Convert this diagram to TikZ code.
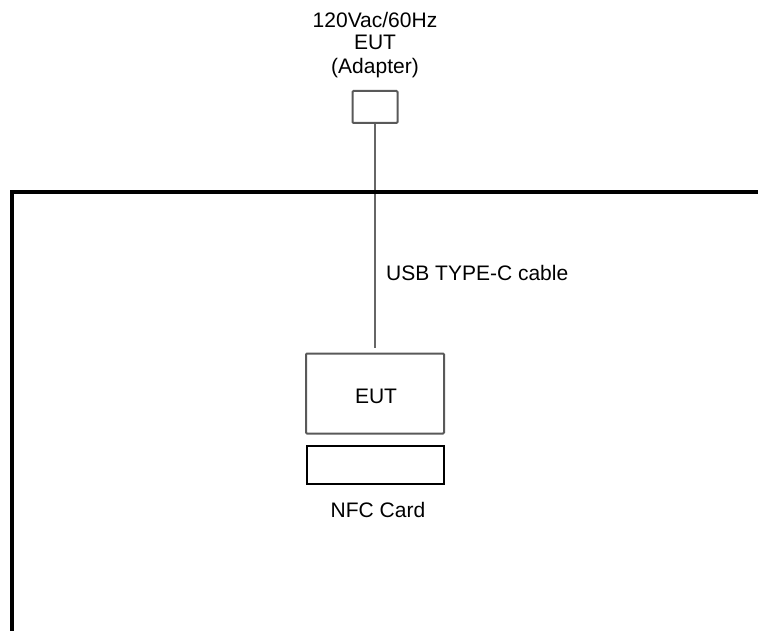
\documentclass[tikz,border=0pt]{standalone}
\usepackage{fontspec}
\setmainfont{Liberation Sans}
\begin{document}
\begin{tikzpicture}[x=1pt,y=-1pt,
  lbl/.style={font=\fontsize{21}{24}\selectfont, inner sep=0pt, anchor=base},
  graybox/.style={draw=black!65, line width=2pt, rounded corners=1pt, inner sep=0pt},
  cardbox/.style={draw=black, line width=1.3pt, inner sep=0pt},
  wire/.style={draw=black!60, line width=1.8pt},
  frame/.style={draw=black, line width=4pt, line cap=rect}]
\useasboundingbox (0,0) rectangle (758,631);
% texts above adapter
\node[lbl] (t1) at (375,28) {120Vac/60Hz};
\node[lbl] (t2) at (375,50) {EUT};
\node[lbl] (t3) at (375,74) {(Adapter)};
% adapter box
\node[graybox, minimum width=45pt, minimum height=32pt] (adapter) at (375,107) {};
% EUT
\node[graybox, minimum width=138pt, minimum height=80pt] (eut) at (375,393.5) {};
\node[lbl] (euttxt) at (376,403) {EUT};
% NFC card
\node[cardbox, minimum width=137pt, minimum height=38pt] (card) at (375.5,465) {};
\node[lbl] (cardtxt) at (378,517) {NFC Card};
% cable
\draw[wire, shorten >=5pt] (adapter.south) -- (eut.north);
\node[lbl, anchor=base west] (usb) at (386,280) {USB TYPE-C cable};
% frame
\draw[frame] (12,640) -- (12,192) -- (770,192);
\end{tikzpicture}
\end{document}
